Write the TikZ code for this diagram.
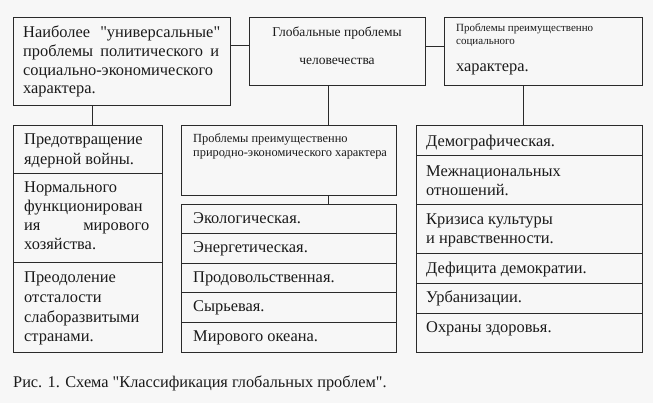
\documentclass[tikz,border=0pt]{standalone}
\usepackage{fontspec}
\setmainfont{Liberation Serif}[Ligatures=TeXOff]
\definecolor{linec}{HTML}{2A2A2A}
\definecolor{txtc}{HTML}{1A1A1A}
\definecolor{bgc}{HTML}{F7F7F7}
\begin{document}
\begin{tikzpicture}[x=1pt,y=-1pt,
  box/.style={draw=linec, line width=0.9pt, inner sep=0pt, anchor=north west},
  conn/.style={draw=linec, line width=0.9pt},
  big/.style={font=\fontsize{16.4}{19.5}\selectfont, text=txtc, inner sep=0pt, anchor=base west},
  mid/.style={font=\fontsize{13.5}{16}\selectfont, text=txtc, inner sep=0pt, anchor=base},
  small/.style={font=\fontsize{11}{13}\selectfont, text=txtc, inner sep=0pt, anchor=base west},
  smallb/.style={font=\fontsize{12.4}{13}\selectfont, text=txtc, inner sep=0pt, anchor=base west},
  capt/.style={font=\fontsize{16.3}{18}\selectfont, text=txtc, inner sep=0pt, anchor=base west}]
\fill[bgc] (0,0) rectangle (653,403);
\useasboundingbox (0,0) rectangle (653,403);
% top boxes
\node[box, minimum width=217pt, minimum height=88pt] (tl) at (13,17) {};
\node[box, minimum width=176pt, minimum height=68pt] (tc) at (249,17) {};
\node[box, minimum width=198pt, minimum height=68pt] (tr) at (444,17) {};
% left column
\node[box, minimum width=149pt, minimum height=48pt] (lc1) at (13,125) {};
\node[box, minimum width=149pt, minimum height=89.5pt] (lc2) at (13,173) {};
\node[box, minimum width=149pt, minimum height=89.5pt] (lc3) at (13,262.5) {};
% center
\node[box, minimum width=215pt, minimum height=70pt] (cm) at (181,125) {};
\node[box, minimum width=215pt, minimum height=29.5pt] (cl1) at (181,204) {};
\node[box, minimum width=215pt, minimum height=29.5pt] (cl2) at (181,233.5) {};
\node[box, minimum width=215pt, minimum height=29.5pt] (cl3) at (181,263) {};
\node[box, minimum width=215pt, minimum height=29.5pt] (cl4) at (181,292.5) {};
\node[box, minimum width=215pt, minimum height=29.5pt] (cl5) at (181,322) {};
% right column
\node[box, minimum width=226pt, minimum height=30pt] (rl1) at (416,125) {};
\node[box, minimum width=226pt, minimum height=49pt] (rl2) at (416,155) {};
\node[box, minimum width=226pt, minimum height=49pt] (rl3) at (416,204) {};
\node[box, minimum width=226pt, minimum height=30pt] (rl4) at (416,253) {};
\node[box, minimum width=226pt, minimum height=30pt] (rl5) at (416,283) {};
\node[box, minimum width=226pt, minimum height=39pt] (rl6) at (416,313) {};
% connectors
\draw[conn] ([yshift=6pt]tc.west) -- ([yshift=6pt]tc.west -| tl.east);
\draw[conn] ([yshift=4.5pt]tr.west) -- ([yshift=4.5pt]tr.west -| tc.east);
\draw[conn] ([xshift=4.8pt]lc1.north) -- ([xshift=4.8pt]lc1.north |- tl.south);
\draw[conn] ([xshift=39pt]cm.north) -- ([xshift=39pt]cm.north |- tc.south);
\draw[conn] ([xshift=39pt]cm.south) -- ([xshift=39pt]cm.south |- cl1.north);
\draw[conn] ([xshift=-6pt]rl1.north) -- ([xshift=-6pt]rl1.north |- tr.south);
% texts top-left
\node[big] (tla) at (23,38) {\makebox[197pt][s]{Наиболее "универсальные"}};
\node[big] (tlb) at (23,57) {\makebox[196pt][s]{проблемы политического и}};
\node[big] (tlc) at (23,75.5) {социально-экономического};
\node[big] (tld) at (23,94) {характера.};
% top-center
\node[mid] (tca) at (337,37) {Глобальные проблемы};
\node[mid] (tcb) at (337,65) {человечества};
% top-right
\node[small] (tra) at (456,32) {Проблемы преимущественно};
\node[small] (trb) at (456,45) {социального};
\node[big] (trc) at (456,72) {характера.};
% left column texts
\node[big] (l1a) at (24,145) {Предотвращение};
\node[big] (l1b) at (24,165) {ядерной войны.};
\node[big] (l2a) at (24,193) {Нормального};
\node[big] (l2b) at (24,212) {функционирован};
\node[big] (l2c) at (24,231) {\makebox[125pt][s]{ия мирового}};
\node[big] (l2d) at (24,250) {хозяйства.};
\node[big] (l3a) at (24,283) {Преодоление};
\node[big] (l3b) at (24,302.5) {отсталости};
\node[big] (l3c) at (24,322) {слаборазвитыми};
\node[big] (l3d) at (24,341.5) {странами.};
% center middle
\node[smallb] (cma) at (193,143) {Проблемы преимущественно};
\node[smallb] (cmb) at (193,157) {природно-экономического характера};
% center list
\node[big] (c1) at (193,223.5) {Экологическая.};
\node[big] (c2) at (193,253) {Энергетическая.};
\node[big] (c3) at (193,282.5) {Продовольственная.};
\node[big] (c4) at (193,312) {Сырьевая.};
\node[big] (c5) at (193,341.5) {Мирового океана.};
% right list
\node[big] (r1) at (426,147) {Демографическая.};
\node[big] (r2a) at (426,177) {Межнациональных};
\node[big] (r2b) at (426,196) {отношений.};
\node[big] (r3a) at (426,225) {Кризиса культуры};
\node[big] (r3b) at (426,244) {и нравственности.};
\node[big] (r4) at (426,273.5) {Дефицита демократии.};
\node[big] (r5) at (426,302.5) {Урбанизации.};
\node[big] (r6) at (426,332) {Охраны здоровья.};
% caption
\node[capt] (cap) at (13,387) {Рис. 1. Схема "Классификация глобальных проблем".};
\end{tikzpicture}
\end{document}
